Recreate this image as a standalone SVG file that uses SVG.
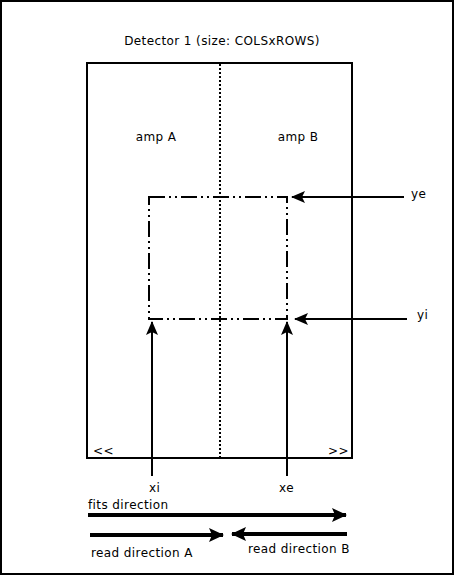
<svg xmlns="http://www.w3.org/2000/svg" width="455" height="576" viewBox="0 0 455 576">
<style>
text{font-family:"DejaVu Sans",sans-serif;font-size:12px;letter-spacing:0.4px;fill:#000}
.ln{stroke:#000;stroke-width:2;fill:none}
.thick{stroke:#000;stroke-width:4;fill:none}
.dd{stroke:#000;stroke-width:2;fill:none;stroke-dasharray:16,4,2,4,2,4}
</style>
<defs>
<marker id="ah" viewBox="0 0 14 12" refX="13" refY="6" markerWidth="14" markerHeight="12" markerUnits="userSpaceOnUse" orient="auto">
<path d="M0,0 L14,6 L0,12 L3,6 Z" fill="#000"/>
</marker>
<marker id="ahb" viewBox="0 0 15 14" refX="14" refY="7" markerWidth="15" markerHeight="14" markerUnits="userSpaceOnUse" orient="auto">
<path d="M0,0 L15,7 L0,14 L3,7 Z" fill="#000"/>
</marker>
</defs>
<rect x="1" y="1" width="452" height="573" fill="#fff" stroke="#000" stroke-width="2"/>
<g id="detector">
<rect x="87" y="63" width="265" height="395" class="ln"/>
<line x1="220" y1="64" x2="220" y2="457" stroke="#000" stroke-width="2" stroke-dasharray="2,2"/>
<text x="222" y="45" text-anchor="middle">Detector 1 (size: COLSxROWS)</text>
<text x="156" y="141" text-anchor="middle">amp A</text>
<text x="298" y="141" text-anchor="middle">amp B</text>
<text x="93" y="455" letter-spacing="3">&lt;&lt;</text>
<text x="349" y="455" text-anchor="end" letter-spacing="3">&gt;&gt;</text>
</g>
<g id="region">
<rect x="149" y="197" width="138" height="122" class="dd"/>
</g>
<g id="connectors">
<line x1="404" y1="197" x2="292" y2="197" class="ln" marker-end="url(#ah)"/>
<line x1="407" y1="319" x2="295" y2="319" class="ln" marker-end="url(#ah)"/>
<line x1="152" y1="476" x2="152" y2="322" class="ln" marker-end="url(#ah)"/>
<line x1="287" y1="476" x2="287" y2="322" class="ln" marker-end="url(#ah)"/>
<line x1="88" y1="515" x2="346" y2="515" class="thick" marker-end="url(#ahb)"/>
<line x1="90" y1="535" x2="223" y2="535" class="thick" marker-end="url(#ahb)"/>
<line x1="347" y1="534" x2="232" y2="534" class="thick" marker-end="url(#ahb)"/>
</g>
<g id="labels">
<text x="411" y="198">ye</text>
<text x="417" y="319">yi</text>
<text x="149" y="492">xi</text>
<text x="279" y="492">xe</text>
<text x="88" y="509">fits direction</text>
<text x="91" y="557">read direction A</text>
<text x="248" y="553">read direction B</text>
</g>
</svg>
